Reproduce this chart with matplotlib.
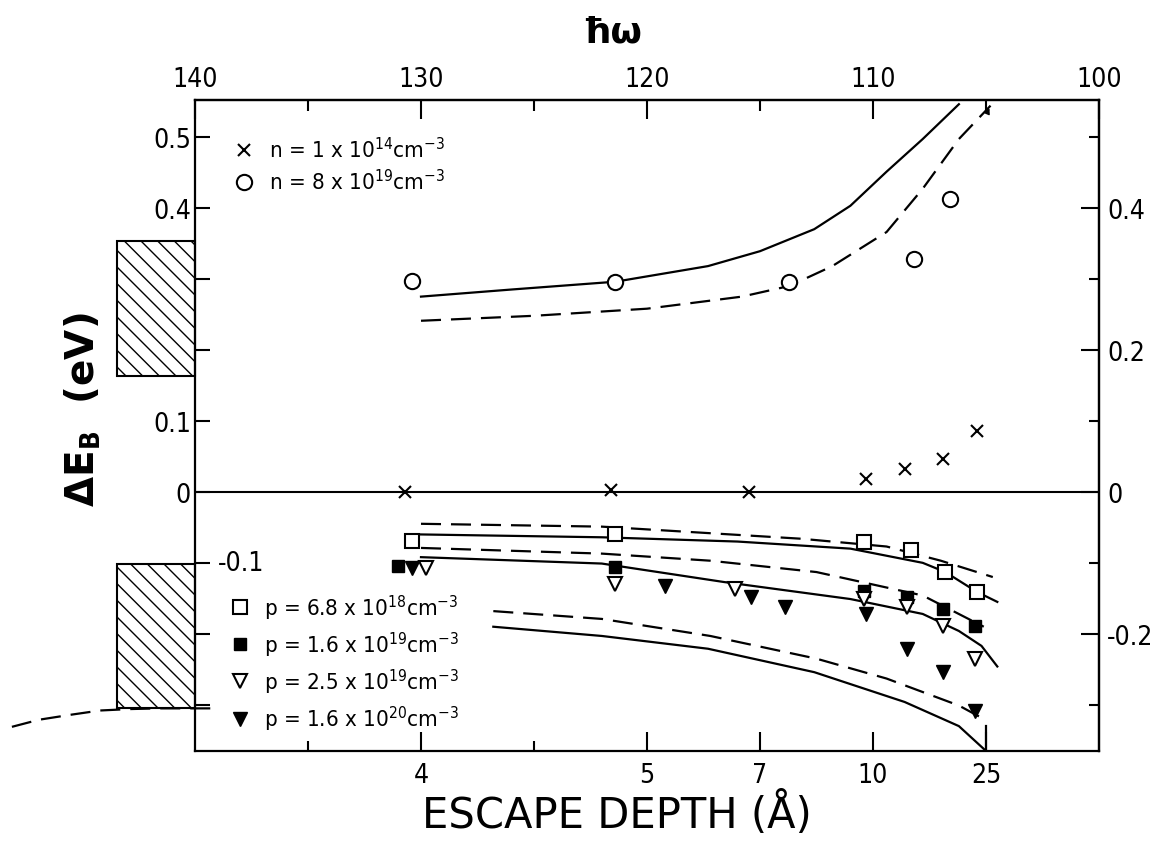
import matplotlib
matplotlib.use('Agg')
import matplotlib.pyplot as plt
from matplotlib import font_manager
from matplotlib.patches import Rectangle

# The scan uses a narrow face for numbers; take a condensed one if installed
fonts = font_manager.fontManager.ttflist
names = set(f.name for f in fonts)
condensed = any(f.name == 'DejaVu Sans' and str(f.stretch) in ('condensed', '500', '75')
                for f in fonts)
if 'Liberation Sans Narrow' in names:
    numFont, numSize, legSize = 'Liberation Sans Narrow', 20, 18
elif condensed:
    numFont, numSize, legSize = 'DejaVu Sans', 19, 16
    plt.rcParams['font.stretch'] = 'condensed'
else:
    numFont, numSize, legSize = 'DejaVu Sans', 17, 15
plt.rcParams['font.family'] = numFont
plt.rcParams['mathtext.default'] = 'regular'
plt.rcParams['hatch.linewidth'] = 1.0

# Top axis: photon energy, bottom axis: escape depth at the same positions
hwTicks = [140, 130, 120, 110, 100]
hwMinor = [135, 125, 115, 105]
depthTickPos = [130, 120, 115, 110, 105]
depthLabels = ['4', '5', '7', '10', '25']
depthMinorPos = [135, 125]

# n-type data
nLowHw = [130.7, 121.6, 115.5, 110.3, 108.6, 106.9, 105.4]
nLowE = [0.0, 0.003, 0.0, 0.018, 0.032, 0.046, 0.086]
nHighHw = [130.4, 121.4, 113.7, 108.2, 106.6]
nHighE = [0.297, 0.296, 0.296, 0.328, 0.413]

nSolidHw = [130.0, 126.0, 121.4, 117.3, 115.0, 112.6, 111.0, 109.4, 107.8, 106.2]
nSolidE = [0.275, 0.285, 0.296, 0.318, 0.339, 0.370, 0.403, 0.451, 0.497, 0.546]
nDashHw = [130.0, 125.0, 120.0, 115.8, 113.7, 111.8, 109.4, 107.8, 106.2, 104.8]
nDashE = [0.241, 0.248, 0.258, 0.275, 0.290, 0.318, 0.366, 0.427, 0.497, 0.544]

# p-type data
sqHw = [130.4, 121.4, 110.4, 108.3, 106.8, 105.4]
sqE = [-0.069, -0.059, -0.070, -0.082, -0.113, -0.141]
fsqHw = [131.0, 121.4, 110.4, 108.5, 106.9, 105.5]
fsqE = [-0.104, -0.106, -0.139, -0.148, -0.165, -0.189]
otriHw = [129.8, 121.4, 116.1, 110.4, 108.5, 106.9, 105.5]
otriE = [-0.107, -0.130, -0.137, -0.151, -0.162, -0.189, -0.235]
ftriHw = [130.4, 119.2, 115.4, 113.9, 110.3, 108.5, 106.9, 105.5]
ftriE = [-0.107, -0.132, -0.148, -0.162, -0.172, -0.221, -0.254, -0.308]

p1DashHw = [130.0, 122.0, 113.2, 109.4, 107.0, 104.7]
p1DashE = [-0.045, -0.049, -0.066, -0.077, -0.097, -0.120]
p1SolidHw = [130.0, 122.0, 116.0, 111.0, 107.8, 106.8, 105.4, 104.5]
p1SolidE = [-0.060, -0.064, -0.070, -0.080, -0.100, -0.113, -0.141, -0.155]
p2DashHw = [130.0, 122.0, 117.2, 112.5, 107.8, 105.1]
p2DashE = [-0.079, -0.087, -0.097, -0.113, -0.146, -0.190]
p2SolidHw = [130.0, 122.0, 116.6, 111.0, 107.8, 106.2, 105.2, 104.5]
p2SolidE = [-0.092, -0.101, -0.127, -0.151, -0.172, -0.196, -0.217, -0.246]
p3DashHw = [126.8, 122.0, 117.2, 112.5, 109.4, 106.2, 105.1]
p3DashE = [-0.168, -0.179, -0.203, -0.235, -0.263, -0.301, -0.320]
p3SolidHw = [126.8, 122.0, 117.3, 112.6, 108.6, 106.2, 105.0]
p3SolidE = [-0.190, -0.203, -0.221, -0.254, -0.296, -0.330, -0.365]

# hatched bands left of the frame and the dashed curve below them
bandHw = [143.45, 140.0]
upperBandE = [0.163, 0.354]
lowerBandE = [-0.305, -0.101]
outHw = [148.1, 146.9, 145.5, 144.2, 142.9, 141.6, 139.3]
outE = [-0.331, -0.321, -0.314, -0.308, -0.306, -0.305, -0.305]

ylo, yhi = -0.365, 0.552

fig = plt.figure(figsize=(11.62, 8.45), dpi=100)
ax = fig.add_axes([0.1678, 0.1101, 0.778, 0.7704])
ax.set_xlim(140, 100)
ax.set_ylim(ylo, yhi)
for s in ax.spines.values():
    s.set_linewidth(1.6)

solid = dict(color='k', lw=1.6)
dashed = dict(color='k', lw=1.6, dashes=(9, 4.5))

ax.axhline(0, color='k', lw=1.5)
ax.plot(nSolidHw, nSolidE, **solid)
ax.plot(nDashHw, nDashE, **dashed)
ax.annotate('', xy=(nDashHw[-1], nDashE[-1]), xytext=(-3, -7), textcoords='offset points',
            arrowprops=dict(arrowstyle='-|>', color='k', lw=1.0, mutation_scale=8))
for h, e in [(p1SolidHw, p1SolidE), (p2SolidHw, p2SolidE), (p3SolidHw, p3SolidE)]:
    ax.plot(h, e, **solid)
for h, e in [(p1DashHw, p1DashE), (p2DashHw, p2DashE), (p3DashHw, p3DashE)]:
    ax.plot(h, e, **dashed)
# long tick at 25 A
ax.plot([depthTickPos[-1], depthTickPos[-1]], [p3SolidE[-2], ylo], color='k', lw=1.6)

h1, = ax.plot(nLowHw, nLowE, 'x', color='k', ms=9, mew=1.5)
h2, = ax.plot(nHighHw, nHighE, 'o', mfc='white', mec='k', ms=11, mew=1.5)
h3, = ax.plot(sqHw, sqE, 's', mfc='white', mec='k', ms=10, mew=1.5)
h4, = ax.plot(fsqHw, fsqE, 's', color='k', ms=8.5)
h5, = ax.plot(otriHw, otriE, 'v', mfc='white', mec='k', ms=10, mew=1.5)
h6, = ax.plot(ftriHw, ftriE, 'v', color='k', ms=10)

# hatched bands and dashed curve outside the frame
for lo, hi in [upperBandE, lowerBandE]:
    ax.add_patch(Rectangle((bandHw[1], lo), bandHw[0] - bandHw[1], hi - lo, fill=False,
                           hatch='\\\\', edgecolor='k', lw=1.5, clip_on=False))
ax.plot(outHw, outE, clip_on=False, **dashed)

leg1 = ax.legend([h1, h2], ['n = 1 x 10$^{14}$cm$^{-3}$', 'n = 8 x 10$^{19}$cm$^{-3}$'],
                 loc='upper left', bbox_to_anchor=(0.042, 0.944), frameon=False,
                 prop=dict(family=numFont, size=legSize), handlelength=1.0,
                 handletextpad=0.6, labelspacing=0.3, borderpad=0, borderaxespad=0)
ax.add_artist(leg1)
ax.legend([h3, h4, h5, h6],
          ['p = 6.8 x 10$^{18}$cm$^{-3}$', 'p = 1.6 x 10$^{19}$cm$^{-3}$',
           'p = 2.5 x 10$^{19}$cm$^{-3}$', 'p = 1.6 x 10$^{20}$cm$^{-3}$'],
          loc='upper left', bbox_to_anchor=(0.037, 0.2435), frameon=False,
          prop=dict(family=numFont, size=legSize), handlelength=1.0,
          handletextpad=0.6, labelspacing=0.36, borderpad=0, borderaxespad=0)

# bottom: escape depth
ax.set_xticks(depthTickPos)
ax.set_xticklabels(depthLabels)
ax.set_xticks(depthMinorPos, minor=True)
ax.tick_params(axis='x', which='major', direction='in', length=14, width=1.5,
               labelsize=numSize, pad=8)
ax.tick_params(axis='x', which='minor', direction='in', length=7, width=1.5)

# left: energy scale, some labels hidden by the bands
leftTicks = [0.5, 0.4, 0.3, 0.2, 0.1, 0.0, -0.1, -0.2, -0.3]
leftLabels = ['0.5', '0.4', '', '', '0.1', '0', '', '', '']
ax.set_yticks(leftTicks)
ax.set_yticklabels(leftLabels)
ax.tick_params(axis='y', direction='in', length=11, width=1.5, labelsize=numSize, pad=3)
ax.text(139.0, -0.1, '-0.1', fontsize=numSize, ha='left', va='center')

# top: photon energy
top = ax.secondary_xaxis('top')
top.set_xticks(hwTicks)
top.set_xticklabels([str(t) for t in hwTicks])
top.set_xticks(hwMinor, minor=True)
top.tick_params(axis='x', which='major', direction='in', length=14, width=1.5,
                labelsize=numSize, pad=6)
top.tick_params(axis='x', which='minor', direction='in', length=8, width=1.5)
top.spines['top'].set_linewidth(1.6)

# right
rightTicks = [0.4, 0.2, 0.0, -0.2]
rightMinor = [0.5, 0.3, 0.1, -0.1, -0.3]
right = ax.secondary_yaxis('right')
right.set_yticks(rightTicks)
right.set_yticklabels(['0.4', '0.2', '0', '-0.2'])
right.set_yticks(rightMinor, minor=True)
right.tick_params(axis='y', which='major', direction='in', length=13, width=1.5,
                  labelsize=numSize, pad=6)
right.tick_params(axis='y', which='minor', direction='in', length=7, width=1.5)
right.spines['right'].set_linewidth(1.6)

fig.text(0.531, 0.036, 'ESCAPE DEPTH (Å)', ha='center', va='center', fontsize=30,
         family='DejaVu Sans', stretch='normal')
fig.text(0.0714, 0.5148, 'ΔE$_\\mathbf{B}$  (eV)', rotation=90, ha='center', va='center',
         fontsize=28, fontweight='bold', family='DejaVu Sans', stretch='normal')
fig.text(0.5267, 0.961, 'ħω', ha='center', va='center', fontsize=26, fontweight='bold',
         family='DejaVu Sans', stretch='normal')

fig.savefig('out.png', dpi=100)
